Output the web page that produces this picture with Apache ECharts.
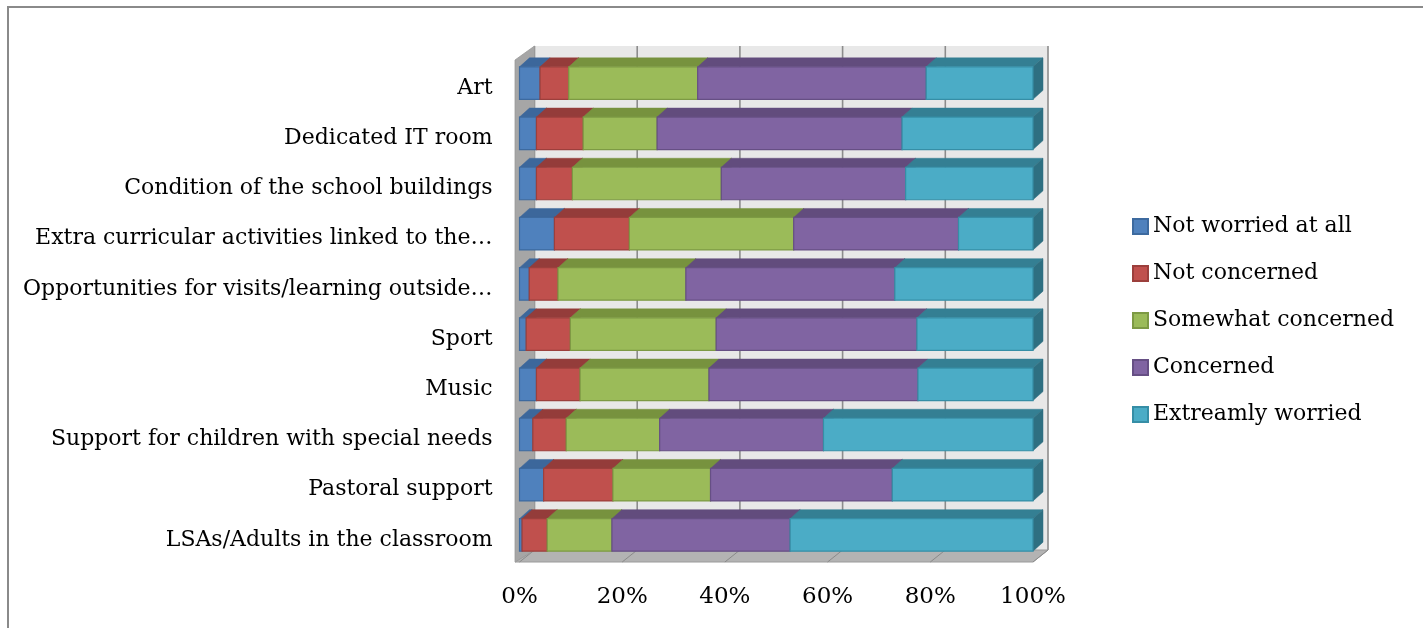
<!DOCTYPE html>
<html>
<head>
<meta charset="utf-8">
<script src="https://cdn.jsdelivr.net/npm/echarts@6/dist/echarts.min.js"></script>
<style>
html,body{margin:0;padding:0;background:#fff;}
#chart{width:1423px;height:628px;}
</style>
</head>
<body>
<div id="chart"></div>
<script>
const categories = [
  'Art',
  'Dedicated IT room',
  'Condition of the school buildings',
  'Extra curricular activities linked to the\u2026',
  'Opportunities for visits/learning outside\u2026',
  'Sport',
  'Music',
  'Support for children with special needs',
  'Pastoral support',
  'LSAs/Adults in the classroom'
];
const seriesNames = ['Not worried at all', 'Not concerned', 'Somewhat concerned', 'Concerned', 'Extreamly worried'];
const notWorried   = [4.0, 3.3, 3.3, 6.8, 1.9, 1.3, 3.3, 2.6, 4.7, 0.5];
const notConcerned = [5.6, 9.1, 7.0, 14.6, 5.6, 8.6, 8.5, 6.5, 13.5, 4.9];
const somewhat     = [25.1, 14.4, 29.0, 32.0, 24.9, 28.4, 25.1, 18.2, 19.0, 12.6];
const concerned    = [44.5, 47.7, 35.9, 32.1, 40.7, 39.1, 40.7, 31.9, 35.4, 34.7];
const extreme      = [20.8, 25.5, 24.8, 14.5, 26.9, 22.6, 22.4, 40.8, 27.4, 47.3];
const xTicks = [0, 20, 40, 60, 80, 100];

const seriesValues = [notWorried, notConcerned, somewhat, concerned, extreme];
const palette = [
  {front:'#4f81bd', top:'#3c679b', side:'#345a88', border:'#3d6a9f'},
  {front:'#c0504d', top:'#943c3a', side:'#863533', border:'#9c3f3c'},
  {front:'#9bbb59', top:'#77923e', side:'#6a8336', border:'#7d9a44'},
  {front:'#8064a2', top:'#624c7d', side:'#57436f', border:'#664f84'},
  {front:'#4bacc6', top:'#347f93', side:'#2e6f81', border:'#368ea6'}
];
const FONT = 'DejaVu Serif';
const BDX = 10, BDY = 9;     // bar depth offsets
const WDX = 15, WDY = 12;    // wall depth offsets

// stacked start/end values
const stacked = seriesValues.map(() => []);
for (let c = 0; c < categories.length; c++) {
  let acc = 0;
  for (let s = 0; s < seriesValues.length; s++) {
    const v = seriesValues[s][c];
    stacked[s].push([acc, acc + v, c]);
    acc += v;
  }
}

function barRender(sIdx) {
  return function (params, api) {
    const c = api.value(2);
    const p0 = api.coord([api.value(0), c]);
    const p1 = api.coord([api.value(1), c]);
    const band = api.size([0, 1])[1];
    const h = band * 0.647;
    const x0 = p0[0], x1 = p1[0];
    const top = p0[1] - h / 2;
    const col = palette[sIdx];
    return {
      type: 'group',
      children: [
        {type:'polygon', shape:{points:[[x0,top],[x0+BDX,top-BDY],[x1+BDX,top-BDY],[x1,top]]},
         style:{fill:col.top, stroke:col.top, lineWidth:0.5}},
        {type:'polygon', shape:{points:[[x1,top],[x1+BDX,top-BDY],[x1+BDX,top+h-BDY],[x1,top+h]]},
         style:{fill:col.side, stroke:col.side, lineWidth:0.5}},
        {type:'rect', shape:{x:x0, y:top, width:x1-x0, height:h},
         style:{fill:col.front, stroke:col.border, lineWidth:1.2}}
      ]
    };
  };
}

function wallRender(params, api) {
  const cs = params.coordSys;
  const gt = cs.y, gb = cs.y + cs.height;
  const xa = api.coord([0, 0])[0];
  const xb = api.coord([100, 0])[0];
  const fy = gb + 2;
  const children = [];
  children.push({type:'rect', shape:{x:xa+WDX, y:gt-WDY, width:xb-xa, height:(fy-WDY)-(gt-WDY)},
    style:{fill:'#e8e8e8'}});
  xTicks.forEach(t => {
    const x = api.coord([t, 0])[0] + WDX;
    children.push({type:'line', shape:{x1:x, y1:gt-WDY, x2:x, y2:fy-WDY},
      style:{stroke:'#8c8c8c', lineWidth:1.6}});
  });
  children.push({type:'polygon', shape:{points:[[xa-4.5,fy],[xb,fy],[xb+WDX,fy-WDY],[xa+WDX,fy-WDY]]},
    style:{fill:'#b3b3b3', stroke:'#9a9a9a', lineWidth:1}});
  xTicks.forEach(t => {
    const x = api.coord([t, 0])[0];
    children.push({type:'line', shape:{x1:x, y1:fy, x2:x+WDX, y2:fy-WDY},
      style:{stroke:'#8a8a8a', lineWidth:1}});
  });
  children.push({type:'polygon', shape:{points:[[xa-4.5,gt+2],[xa+WDX,gt-WDY],[xa+WDX,fy-WDY],[xa-4.5,fy]]},
    style:{fill:'#a6a6a6', stroke:'#999', lineWidth:0.8}});
  return {type:'group', children};
}

const chart = echarts.init(document.getElementById('chart'), null, {renderer:'canvas'});
const series = [{
  type:'custom', name:'walls', silent:true, z:1,
  data:[[0, 0, 0]],
  encode:{x:[0,1], y:2},
  renderItem: wallRender,
  clip:false
}];
seriesNames.forEach((n, i) => {
  series.push({
    type:'custom', name:n, z:2+i,
    data: stacked[i],
    encode:{x:[0,1], y:2},
    itemStyle:{color:palette[i].front, borderColor:palette[i].border, borderWidth:1.5},
    renderItem: barRender(i),
    clip:false
  });
});

chart.setOption({
  animation:false,
  textStyle:{fontFamily:FONT},
  graphic:[{type:'rect', shape:{x:8, y:7, width:1440, height:660},
    style:{fill:'none', stroke:'#8a8a8a', lineWidth:2}, z:0}],
  grid:{left:519.5, right:390, top:58, bottom:68, containLabel:false},
  xAxis:{type:'value', min:0, max:100, interval:20,
    axisLine:{show:false}, axisTick:{show:false}, splitLine:{show:false},
    axisLabel:{formatter:'{value}%', fontFamily:FONT, fontSize:23, color:'#000', margin:26}},
  yAxis:{type:'category', data:categories, inverse:true,
    axisLine:{show:false}, axisTick:{show:false}, splitLine:{show:false},
    axisLabel:{fontFamily:FONT, fontSize:22, color:'#000', margin:27,
      formatter: v => '{a|' + v + '}',
      rich:{a:{fontFamily:FONT, fontSize:22, color:'#000', lineHeight:26, padding:[10,0,0,0]}}}},
  legend:{orient:'vertical', left:1132, top:214, padding:0, data:seriesNames,
    icon:'rect', itemWidth:15, itemHeight:15, itemGap:22,
    textStyle:{fontFamily:FONT, fontSize:22, color:'#000', lineHeight:25}},
  series
});
</script>
</body>
</html>
